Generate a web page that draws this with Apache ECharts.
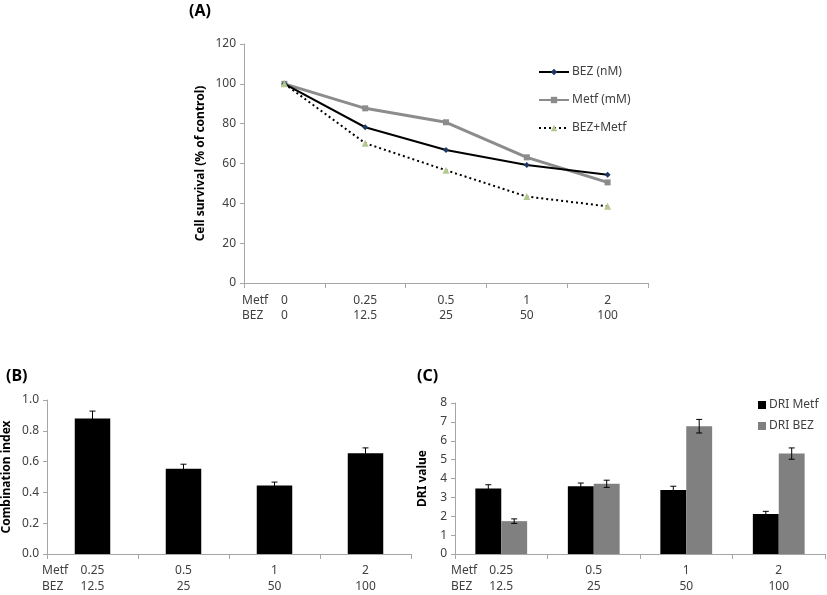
<!DOCTYPE html>
<html><head><meta charset="utf-8">
<script src="https://cdn.jsdelivr.net/npm/echarts@6/dist/echarts.min.js"></script>
<style>html,body{margin:0;padding:0;background:#fff}#c{width:827px;height:595px}</style>
</head><body><div id="c"></div>
<script>
// ---- data ----
const metfDosesA = ['0','0.25','0.5','1','2'];
const bezDosesA = ['0','12.5','25','50','100'];
const survBEZ = [100, 78.2, 66.8, 59.3, 54.4];
const survMetf = [100, 87.7, 80.7, 63.1, 50.5];
const survCombo = [100, 70.2, 56.6, 43.4, 38.5];
const metfDosesBC = ['0.25','0.5','1','2'];
const bezDosesBC = ['12.5','25','50','100'];
const ciValues = [0.88, 0.553, 0.445, 0.654];
const ciErrors = [0.048, 0.03, 0.022, 0.035];
const driMetf = [3.47, 3.59, 3.39, 2.12];
const driMetfErr = [0.2, 0.17, 0.2, 0.14];
const driBEZ = [1.74, 3.72, 6.77, 5.32];
const driBEZErr = [0.12, 0.19, 0.36, 0.3];
const rowLabels = ['Metf', 'BEZ'];
const panelTitles = ['(A)', '(B)', '(C)'];

const FONT = 'Noto Sans';
const TXT = '#404040';
const AX = '#a6a6a6';
const FS = 12;

function cats(m, b) { return m.map((v, i) => v + '\n' + b[i]); }

function errData(vals, errs) { return vals.map((v, i) => [i, v - errs[i], v + errs[i]]); }

function errRender(offFrac) {
  return function (params, api) {
    const x = api.value(0);
    const lo = api.coord([x, api.value(1)]);
    const hi = api.coord([x, api.value(2)]);
    const bw = api.size([1, 0])[0];
    const cx = lo[0] + bw * offFrac;
    const cap = 3;
    const st = { stroke: '#000', lineWidth: 1 };
    return { type: 'group', children: [
      { type: 'line', shape: { x1: cx, y1: lo[1], x2: cx, y2: hi[1] }, style: st },
      { type: 'line', shape: { x1: cx - cap, y1: hi[1], x2: cx + cap, y2: hi[1] }, style: st },
      { type: 'line', shape: { x1: cx - cap, y1: lo[1], x2: cx + cap, y2: lo[1] }, style: st }
    ]};
  };
}

const xAxisCommon = {
  type: 'category',
  axisLine: { lineStyle: { color: AX, width: 1 } },
  axisTick: { show: true, length: 5, lineStyle: { color: AX } },
  axisLabel: { color: TXT, fontFamily: FONT, fontSize: FS, lineHeight: 16, margin: 9, interval: 0 }
};
const yAxisCommon = {
  type: 'value',
  axisLine: { show: true, lineStyle: { color: AX, width: 1 } },
  axisTick: { show: true, length: 4, lineStyle: { color: AX } },
  splitLine: { show: false },
  axisLabel: { color: TXT, fontFamily: FONT, fontSize: FS, margin: 8 },
  nameLocation: 'middle',
  nameRotate: 90,
  nameTextStyle: { color: '#000', fontFamily: FONT, fontSize: 12, fontWeight: 'bold' }
};

const chart = echarts.init(document.getElementById('c'), null, { renderer: 'canvas' });

const titleStyle = { fontFamily: FONT, fontSize: 16, fontWeight: 'bold', color: '#000' };
const option = {
  animation: false,
  backgroundColor: '#fff',
  title: [
    { text: panelTitles[0], left: 184, top: -2, textStyle: titleStyle },
    { text: panelTitles[1], left: 1, top: 363, textStyle: titleStyle },
    { text: panelTitles[2], left: 412, top: 363, textStyle: titleStyle }
  ],
  legend: [
    { orient: 'vertical', left: 533, top: 61, itemWidth: 30, itemHeight: 8, itemGap: 16,
      textStyle: { color: TXT, fontFamily: FONT, fontSize: FS, padding: [0, 0, 0, -2] },
      data: ['BEZ (nM)', 'Metf (mM)', 'BEZ+Metf'] },
    { orient: 'vertical', left: 753, top: 394, itemWidth: 8, itemHeight: 8, itemGap: 9, icon: 'rect',
      textStyle: { color: TXT, fontFamily: FONT, fontSize: FS, padding: [0, 0, 0, -2] },
      data: ['DRI Metf', 'DRI BEZ'] }
  ],
  grid: [
    { left: 244, top: 44, width: 404, height: 239 },
    { left: 46, top: 400, width: 365, height: 154 },
    { left: 455, top: 403, width: 370, height: 157 }
  ],
  xAxis: [
    Object.assign({}, xAxisCommon, { gridIndex: 0, data: cats(metfDosesA, bezDosesA), axisLabel: Object.assign({}, xAxisCommon.axisLabel, { lineHeight: 15, margin: 10 }) }),
    Object.assign({}, xAxisCommon, { gridIndex: 1, data: cats(metfDosesBC, bezDosesBC) }),
    Object.assign({}, xAxisCommon, { gridIndex: 2, data: cats(metfDosesBC, bezDosesBC) })
  ],
  yAxis: [
    Object.assign({}, yAxisCommon, { gridIndex: 0, min: 0, max: 120, interval: 20, name: 'Cell survival (% of control)', nameGap: 37 }),
    Object.assign({}, yAxisCommon, { gridIndex: 1, min: 0, max: 1, interval: 0.2, name: 'Combination index', nameGap: 34,
      axisLabel: Object.assign({}, yAxisCommon.axisLabel, { formatter: v => v.toFixed(1) }) }),
    Object.assign({}, yAxisCommon, { gridIndex: 2, min: 0, max: 8, interval: 1, name: 'DRI value', nameGap: 26 })
  ],
  series: [
    { name: 'BEZ (nM)', type: 'line', xAxisIndex: 0, yAxisIndex: 0, data: survBEZ,
      symbol: 'diamond', symbolSize: 6, lineStyle: { color: '#000', width: 2 }, itemStyle: { color: '#1f3864' }, z: 4 },
    { name: 'Metf (mM)', type: 'line', xAxisIndex: 0, yAxisIndex: 0, data: survMetf,
      symbol: 'rect', symbolSize: 6, lineStyle: { color: '#8c8c8c', width: 3 }, itemStyle: { color: '#8c8c8c' }, z: 3 },
    { name: 'BEZ+Metf', type: 'line', xAxisIndex: 0, yAxisIndex: 0, data: survCombo,
      symbol: 'triangle', symbolSize: 7, lineStyle: { color: '#000', width: 2, type: [2, 3] }, itemStyle: { color: '#b4c98f' }, z: 5 },
    { name: 'CI', type: 'bar', xAxisIndex: 1, yAxisIndex: 1, data: ciValues, barWidth: '39%',
      itemStyle: { color: '#000' } },
    { name: 'CI err', type: 'custom', xAxisIndex: 1, yAxisIndex: 1, data: errData(ciValues, ciErrors),
      renderItem: errRender(0), encode: { x: 0, y: [1, 2] }, z: 10 },
    { name: 'DRI Metf', type: 'bar', xAxisIndex: 2, yAxisIndex: 2, data: driMetf, barWidth: '28%', barGap: '0%',
      itemStyle: { color: '#000' } },
    { name: 'DRI BEZ', type: 'bar', xAxisIndex: 2, yAxisIndex: 2, data: driBEZ, barWidth: '28%', barGap: '0%',
      itemStyle: { color: '#808080' } },
    { name: 'DRI Metf err', type: 'custom', xAxisIndex: 2, yAxisIndex: 2, data: errData(driMetf, driMetfErr),
      renderItem: errRender(-0.14), encode: { x: 0, y: [1, 2] }, z: 10 },
    { name: 'DRI BEZ err', type: 'custom', xAxisIndex: 2, yAxisIndex: 2, data: errData(driBEZ, driBEZErr),
      renderItem: errRender(0.14), encode: { x: 0, y: [1, 2] }, z: 10 }
  ],
  graphic: [
    { type: 'text', left: 242, top: 293, style: { text: rowLabels.join('\n'), fill: TXT, font: FS + 'px "' + FONT + '"', lineHeight: 15 } },
    { type: 'text', left: 42, top: 563, style: { text: rowLabels.join('\n'), fill: TXT, font: FS + 'px "' + FONT + '"', lineHeight: 16 } },
    { type: 'text', left: 451, top: 563, style: { text: rowLabels.join('\n'), fill: TXT, font: FS + 'px "' + FONT + '"', lineHeight: 16 } }
  ]
};
chart.setOption(option);
</script>
</body></html>
